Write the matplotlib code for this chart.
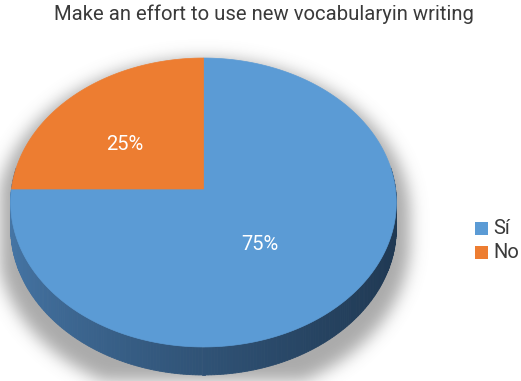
import numpy as np
import matplotlib
matplotlib.use("Agg")
import matplotlib.pyplot as plt
from matplotlib.path import Path
from matplotlib.patches import Polygon, Rectangle
from matplotlib.colors import to_rgb

# ---- data -------------------------------------------------------------
title = "Make an effort to use new vocabularyin writing"
categories = ["Sí", "No"]
values = [75, 25]
top_colors = ["#5B9BD5", "#ED7D31"]

# ---- layout (pixels) ---------------------------------------------------
W, H = 521, 381
cx, cy = 203.5, 189.0          # projected centre of the pie top
A, B, K = 192.0, 143.2, 0.0934  # perspective ellipse parameters
DEPTH = 25.4                    # extrusion of the pie side
FONT = ["Roboto", "DejaVu Sans"]
TEXT_COLOR = "#3a3a3a"

fig = plt.figure(figsize=(W / 100, H / 100), dpi=100)
ax = fig.add_axes([0, 0, 1, 1])
ax.set_xlim(0, W)
ax.set_ylim(H, 0)
ax.axis("off")


def project(u, v, drop=0.0):
    w = 1.0 - K * v
    return cx + A * u / w, cy + B * v / w + drop / w


def rim(theta):
    # theta measured clockwise from 12 o'clock
    return np.sin(theta), -np.cos(theta)


# ---- soft drop shadow --------------------------------------------------
t = np.linspace(0, 2 * np.pi, 400)
u, v = rim(t)
grow = 1.07
tx, ty = project(u * grow, v * grow, 10)
sx, sy = project(u * grow, v * grow, DEPTH + 12)
gx, gy = np.meshgrid(np.arange(W) + 0.5, np.arange(H) + 0.5)
pts = np.column_stack([gx.ravel(), gy.ravel()])
mask = (Path(np.column_stack([tx, ty])).contains_points(pts)
        | Path(np.column_stack([sx, sy])).contains_points(pts)).reshape(H, W).astype(float)
for i in range(W):
    idx = np.nonzero(mask[:, i])[0]
    if idx.size:
        mask[idx[0]:idx[-1] + 1, i] = 1.0

sig = 8.0
kr = np.arange(-30, 31)
kern = np.exp(-kr ** 2 / (2 * sig ** 2))
kern /= kern.sum()
blur = np.apply_along_axis(lambda r: np.convolve(r, kern, mode="same"), 1, mask)
blur = np.apply_along_axis(lambda c: np.convolve(c, kern, mode="same"), 0, blur)
rgba = np.zeros((H, W, 4))
rgba[..., :3] = 0.45
rgba[..., 3] = 0.6 * blur
ax.imshow(rgba, extent=(0, W, H, 0), zorder=1, interpolation="bilinear")

# ---- side of the pie (front arc only is visible) ----------------------
fracs = np.cumsum([0] + values) / float(sum(values))
side_light = np.array(to_rgb("#4676A6"))
side_dark = np.array(to_rgb("#1F3852"))
n = 240
ts = np.linspace(np.pi / 2 - 0.15, 3 * np.pi / 2 + 0.15, n)
for a0, a1 in zip(ts[:-1], ts[1:]):
    u0, v0 = rim(a0)
    u1, v1 = rim(a1)
    x0, y0 = project(u0, v0)
    x1, y1 = project(u1, v1)
    x0b, y0b = project(u0, v0, DEPTH)
    x1b, y1b = project(u1, v1, DEPTH)
    f = np.clip((0.5 * (u0 + u1) + 1) / 2, 0, 1) ** 0.8
    c = side_light * (1 - f) + side_dark * f
    ax.add_patch(Polygon([(x0, y0), (x1, y1), (x1b, y1b), (x0b, y0b)],
                         closed=True, facecolor=c, edgecolor=c, lw=0.6, zorder=2))

# ---- top face ----------------------------------------------------------
for i, col in enumerate(top_colors):
    th = np.linspace(fracs[i] * 2 * np.pi, fracs[i + 1] * 2 * np.pi, 300)
    uu, vv = rim(th)
    px, py = project(uu, vv)
    poly = np.column_stack([np.r_[cx, px], np.r_[cy, py]])
    ax.add_patch(Polygon(poly, closed=True, facecolor=col, edgecolor=col,
                         lw=0.5, zorder=3))

# ---- data labels -------------------------------------------------------
label_xy = [(259.5, 244.0), (125.0, 144.0)]
for val, (lx, ly) in zip(values, label_xy):
    ax.text(lx, ly, f"{val}%", color="white", fontsize=14.5,
            family=FONT, ha="center", va="center", zorder=5)

# ---- title -------------------------------------------------------------
ax.text(264, 14, title, color=TEXT_COLOR, fontsize=14.6,
        family=FONT, ha="center", va="center", zorder=5)

# ---- legend ------------------------------------------------------------
leg_y = [228.0, 252.0]
for cat, col, ly in zip(categories, top_colors, leg_y):
    ax.add_patch(Rectangle((475, ly - 6.5), 13, 13, facecolor=col,
                           edgecolor="none", zorder=5))
    ax.text(493, ly, cat, color=TEXT_COLOR, fontsize=14.5,
            family=FONT, ha="left", va="center", zorder=5)

fig.savefig("out.png", dpi=100, facecolor="white")
